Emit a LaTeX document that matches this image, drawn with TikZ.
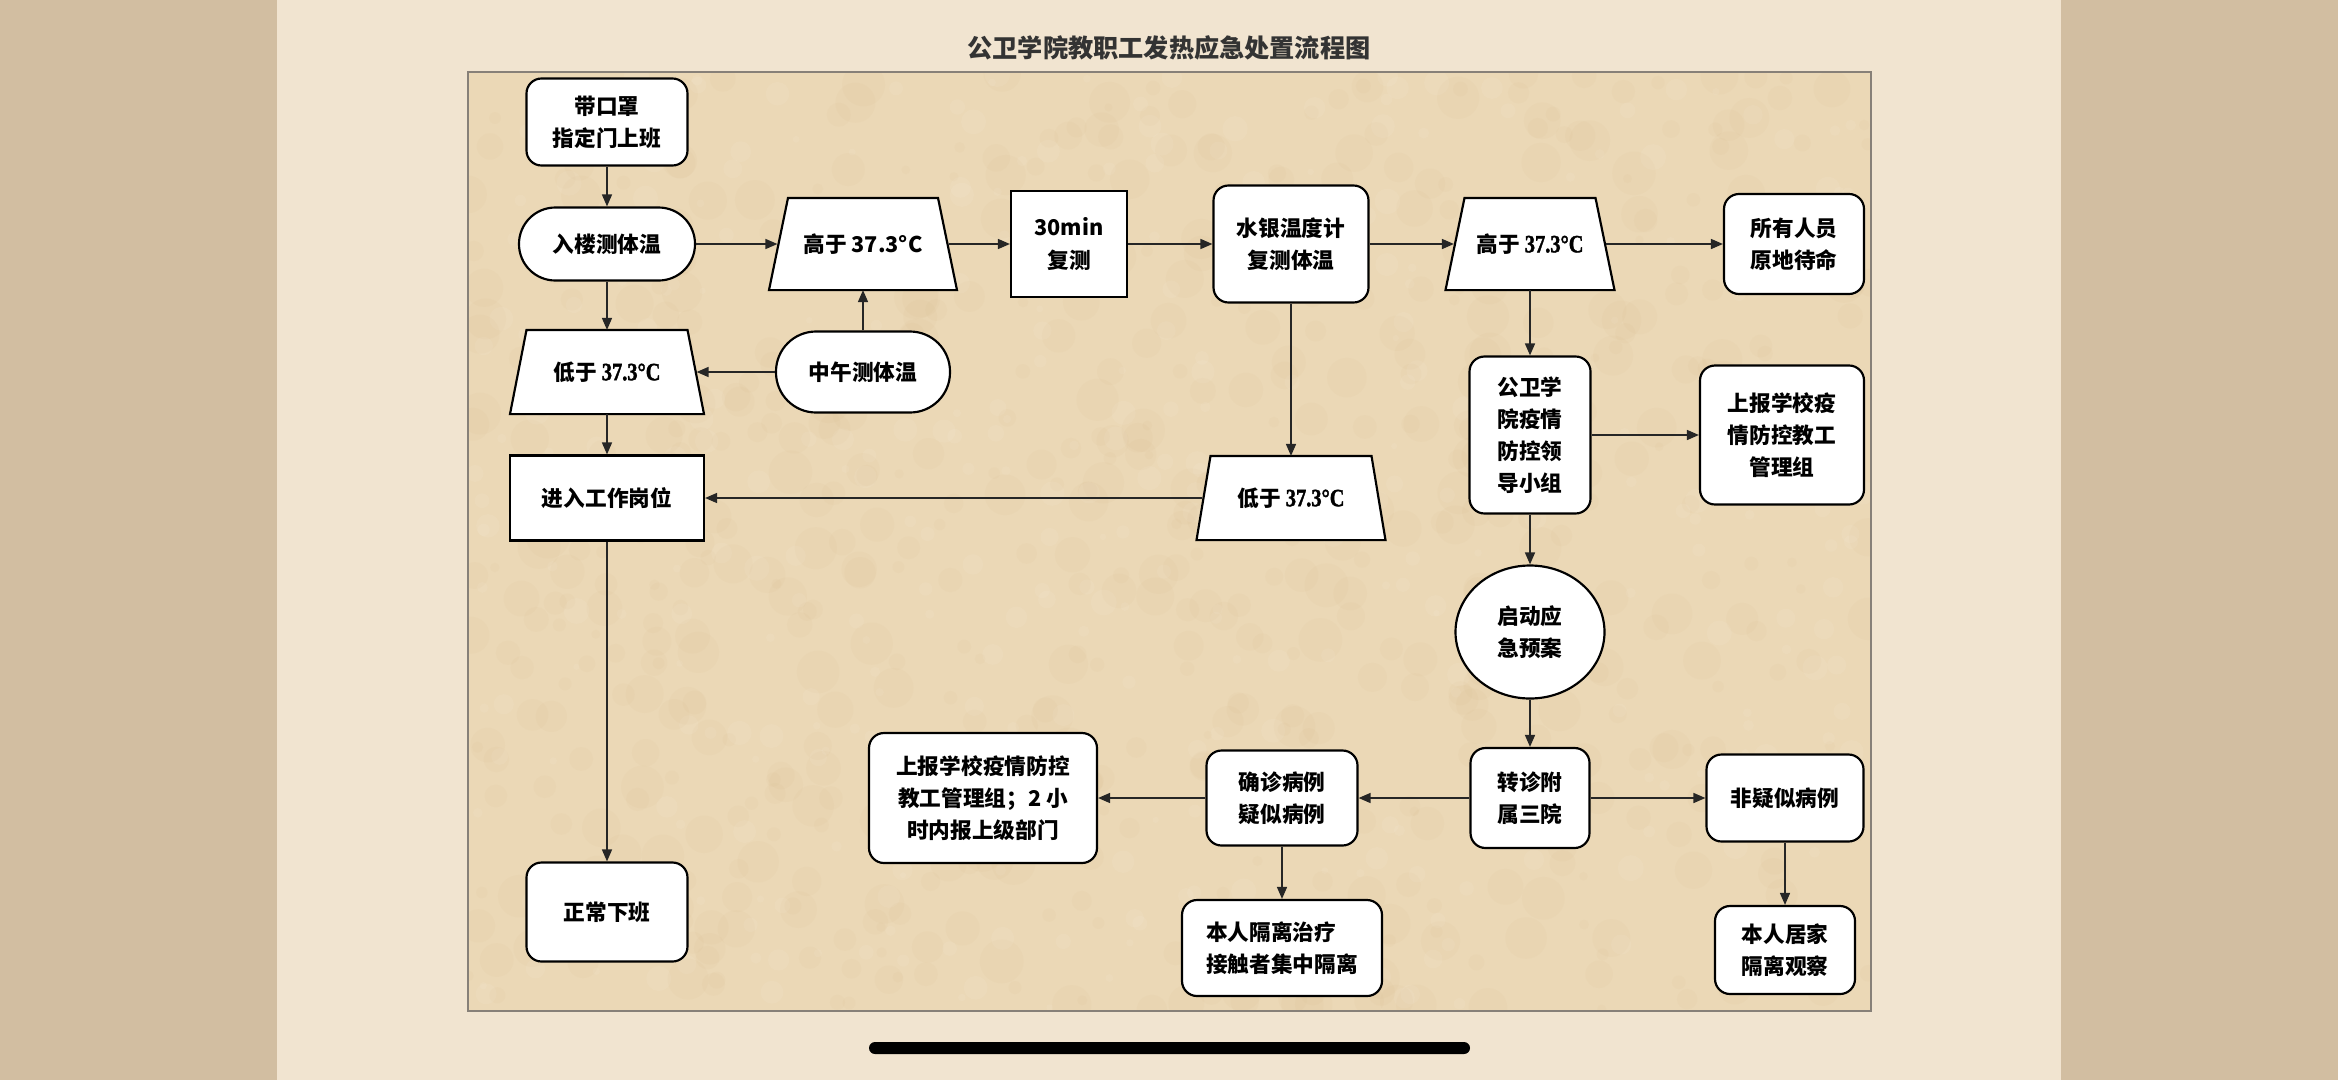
\documentclass[tikz,border=0pt]{standalone}
\usepackage{fontspec}
\setmainfont{Noto Sans CJK SC}
\newfontfamily\tnr{Liberation Serif}[UprightFont={* Bold}, BoldFont={* Bold}, FakeStretch=0.82, FakeBold=1.5, Scale=1.15]
\usetikzlibrary{shapes.geometric,arrows.meta,calc}
\definecolor{bandc}{RGB}{210,190,161}
\definecolor{creamc}{RGB}{241,228,208}
\definecolor{paperc}{RGB}{235,216,182}
\definecolor{spotc}{RGB}{205,170,115}
\definecolor{framec}{RGB}{135,128,120}
\pgfdeclarelayer{back}
\pgfdeclarelayer{bg}
\pgfsetlayers{back,bg,main}
\newcommand\trapzdraw[3]{%
  \begin{pgfonlayer}{bg}
  \draw[draw=black, fill=white, line width=0.065cm, line join=miter]
    ([xshift=-#2*0.03cm]#1.north) -- ([xshift=#2*0.03cm]#1.north) --
    ([xshift=#3*0.03cm]#1.south) -- ([xshift=-#3*0.03cm]#1.south) -- cycle;
  \end{pgfonlayer}}
\begin{document}
\begin{tikzpicture}[x=0.03cm,y=-0.03cm,
  nbase/.style={draw=black, fill=white, line width=0.065cm, align=center, inner sep=0pt,
    font=\fontsize{18.5}{27.5}\selectfont\bfseries, text=black},
  rbox/.style 2 args={nbase, rectangle, rounded corners=0.45cm, minimum width=#1*0.03cm, minimum height=#2*0.03cm},
  sqbox/.style 2 args={nbase, rectangle, minimum width=#1*0.03cm, minimum height=#2*0.03cm},
  stad/.style n args={3}{nbase, rectangle, rounded corners=#3, minimum width=#1*0.03cm, minimum height=#2*0.03cm},
  trapz/.style 2 args={nbase, draw=none, fill=none, rectangle, minimum width=#1*0.03cm, minimum height=#2*0.03cm},
  ovalbox/.style 2 args={nbase, ellipse, minimum width=#1*0.03cm, minimum height=#2*0.03cm},
  arr/.style={-{Triangle[length=0.36cm,width=0.3cm]}, line width=0.045cm, draw=black!85}
]
\useasboundingbox (0,0) rectangle (2338,1080);
\begin{pgfonlayer}{back}
\fill[bandc] (0,0) rectangle (2338,1080);
\fill[creamc] (277,0) rectangle (2061,1080);
\fill[paperc] (468,72) rectangle (1871,1011);
\begin{scope}
\clip (468,72) rectangle (1871,1011);
\pgfmathsetseed{7}
\foreach \i in {1,...,700}{
  \pgfmathsetmacro\px{468+rnd*1403}
  \pgfmathsetmacro\py{72+rnd*939}
  \pgfmathsetmacro\pr{4+rnd*18}
  \fill[spotc, opacity=0.05] (\px,\py) circle [radius=\pr*0.03cm];
}
\foreach \i in {1,...,400}{
  \pgfmathsetmacro\px{468+rnd*1403}
  \pgfmathsetmacro\py{72+rnd*939}
  \pgfmathsetmacro\pr{3+rnd*10}
  \fill[white, opacity=0.06] (\px,\py) circle [radius=\pr*0.03cm];
}
\end{scope}
\draw[framec, line width=0.06cm] (468,72) rectangle (1871,1011);
\end{pgfonlayer}

\node[font=\fontsize{21.5}{24}\selectfont\bfseries, text=black!80] (title) at (1169,48) {公卫学院教职工发热应急处置流程图};
\fill[black, rounded corners=0.18cm] (869,1042) rectangle (1470,1054);

\node[rbox={161}{87}] (n1) at (607,122) {带口罩\\指定门上班};
\node[stad={176}{73}{1.09cm}] (n2) at (607,244) {入楼测体温};
\node[trapz={169}{90}] (n3) at (863,244) {高于 37.3°C};
\trapzdraw{n3}{75}{94}
\node[sqbox={116}{106}] (n4) at (1069,244) {30min\\复测};
\node[rbox={155}{117}] (n5) at (1291,244) {水银温度计\\复测体温};
\node[trapz={150}{90}] (n6) at (1530,244) {高于 {\tnr 37.3°C}};
\trapzdraw{n6}{65.5}{84.5}
\node[rbox={140}{100}] (n7) at (1794,244) {所有人员\\原地待命};
\node[trapz={177}{82}] (n8) at (607,372) {低于 {\tnr 37.3°C}};
\trapzdraw{n8}{80.5}{97}
\node[stad={174}{81}{1.2cm}] (n9) at (863,372) {中午测体温};
\node[sqbox={194}{85}] (n10) at (607,498) {进入工作岗位};
\node[trapz={175}{82}] (n11) at (1291,498) {低于 {\tnr 37.3°C}};
\trapzdraw{n11}{80.5}{94.5}
\node[rbox={121}{157}] (n12) at (1530,435) {公卫学\\院疫情\\防控领\\导小组};
\node[rbox={164}{139}] (n13) at (1782,435) {上报学校疫\\情防控教工\\管理组};
\node[ovalbox={149}{133}] (n14) at (1530,632) {启动应\\急预案};
\node[rbox={119}{100}] (n15) at (1530,798) {转诊附\\属三院};
\node[rbox={151}{95}] (n16) at (1282,798) {确诊病例\\疑似病例};
\node[rbox={228}{130}] (n17) at (983,798) {上报学校疫情防控\\教工管理组；2 小\\时内报上级部门};
\node[rbox={157}{87}] (n18) at (1785,798) {非疑似病例};
\node[rbox={200}{96}, align=left] (n19) at (1282,948) {本人隔离治疗\\接触者集中隔离};
\node[rbox={140}{88}] (n20) at (1785,950) {本人居家\\隔离观察};
\node[rbox={161}{99}] (n21) at (607,912) {正常下班};

\draw[arr] (n1) -- (n2);
\draw[arr] (n2) -- (n3);
\draw[arr] (n3) -- (n4);
\draw[arr] (n4) -- (n5);
\draw[arr] (n5) -- (n6);
\draw[arr] (n6) -- (n7);
\draw[arr] (n2) -- (n8);
\draw[arr] (n9) -- (n3);
\draw[arr] (n9) -- (n8);
\draw[arr] (n8) -- (n10);
\draw[arr] (n5) -- (n11);
\draw[arr] (n11) -- (n10);
\draw[arr] (n10) -- (n21);
\draw[arr] (n6) -- (n12);
\draw[arr] (n12) -- (n13);
\draw[arr] (n12) -- (n14);
\draw[arr] (n14) -- (n15);
\draw[arr] (n15) -- (n16);
\draw[arr] (n16) -- (n17);
\draw[arr] (n15) -- (n18);
\draw[arr] (n16) -- (n19);
\draw[arr] (n18) -- (n20);
\end{tikzpicture}
\end{document}
